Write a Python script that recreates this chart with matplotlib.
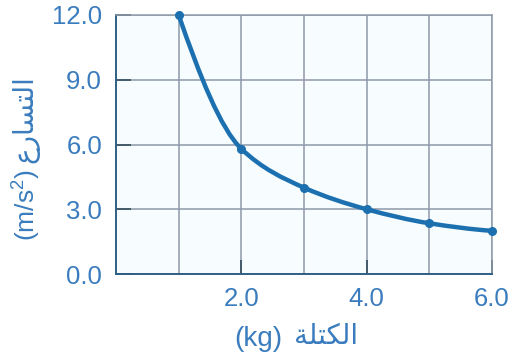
import matplotlib
matplotlib.use("Agg")
import matplotlib.pyplot as plt
from matplotlib.path import Path
from matplotlib.patches import PathPatch
import numpy as np

# Measured mass (kg) and acceleration (m/s^2)
mass = [1.0, 2.0, 3.0, 4.0, 5.0, 6.0]
accel = [12.0, 5.8, 4.0, 3.0, 2.35, 2.0]

y_ticks = [0.0, 3.0, 6.0, 9.0, 12.0]
y_tick_labels = ["0.0", "3.0", "6.0", "9.0", "12.0"]
x_ticks = [2.0, 4.0, 6.0]
x_tick_labels = ["2.0", "4.0", "6.0"]
x_grid = [1.0, 3.0, 5.0]

# Axis titles: unit part and Arabic word (shaped, visual left-to-right order)
x_unit = "(kg)"
x_word = "\uFE94\uFEE0\uFE98\uFEDC\uFEDF\uFE8D"
y_unit = r"(m/s$^{\mathregular{2}}$)"
y_word = "\uFEC9\uFEAD\uFE8E\uFEB4\uFE98\uFEDF\uFE8D"

plt.rcParams["mathtext.fontset"] = "custom"
plt.rcParams["mathtext.rm"] = "Liberation Sans"
plt.rcParams["mathtext.it"] = "Liberation Sans:italic"

TEXT_BLUE = "#3a7cbd"
CURVE_BLUE = "#1c70b0"
GRID = "#8e9aa8"
SPINE = "#2f5f85"
FONT = ["Liberation Sans", "DejaVu Sans"]

fig = plt.figure(figsize=(5.16, 3.64), dpi=100)
fig.patch.set_facecolor("white")
ax = fig.add_axes([116 / 516, 1 - 274 / 364, 376 / 516, 259 / 364])
ax.set_facecolor("#f7fcfe")
ax.set_xlim(0, 6)
ax.set_ylim(0, 12)

ax.set_yticks(y_ticks)
ax.set_yticklabels(y_tick_labels)
ax.set_xticks(x_ticks)
ax.set_xticklabels(x_tick_labels)
ax.set_xticks(x_grid, minor=True)

ax.grid(True, which="both", color=GRID, linewidth=1.1)
ax.set_axisbelow(True)
ax.tick_params(axis="y", which="major", direction="in", length=11, width=1.3,
               color="#3d5566", pad=10, labelsize=18.5, labelcolor=TEXT_BLUE)
ax.tick_params(axis="x", which="major", direction="in", length=10, width=1.3,
               color="#3d5566", pad=9, labelsize=18.5, labelcolor=TEXT_BLUE)
ax.tick_params(axis="x", which="minor", length=0)
for lab in ax.get_xticklabels() + ax.get_yticklabels():
    lab.set_family(FONT)

for side in ("left", "bottom"):
    ax.spines[side].set_color(SPINE)
    ax.spines[side].set_linewidth(1.4)
for side in ("top", "right"):
    ax.spines[side].set_color(GRID)
    ax.spines[side].set_linewidth(1.1)

# Smooth shape-preserving curve through the measured points
# (PCHIP-style Hermite tangents, written as cubic Bezier segments)
xs = np.asarray(mass)
ys = np.asarray(accel)
h = np.diff(xs)
s = np.diff(ys) / h
d = np.zeros_like(ys)
for k in range(1, len(xs) - 1):
    if s[k - 1] * s[k] > 0:
        d[k] = 2.0 / (1.0 / s[k - 1] + 1.0 / s[k])
d[0] = ((2 * h[0] + h[1]) * s[0] - h[0] * s[1]) / (h[0] + h[1])
d[-1] = ((2 * h[-1] + h[-2]) * s[-1] - h[-1] * s[-2]) / (h[-1] + h[-2])

verts = [(xs[0], ys[0])]
codes = [Path.MOVETO]
for k in range(len(xs) - 1):
    t = h[k] / 3.0
    verts += [(xs[k] + t, ys[k] + t * d[k]),
              (xs[k + 1] - t, ys[k + 1] - t * d[k + 1]),
              (xs[k + 1], ys[k + 1])]
    codes += [Path.CURVE4] * 3
curve = PathPatch(Path(verts, codes), facecolor="none", edgecolor=CURVE_BLUE,
                  linewidth=3.2, capstyle="round", zorder=3)
ax.add_patch(curve)
ax.plot(mass, accel, "o", color=CURVE_BLUE, markersize=5.5, zorder=4,
        clip_on=False)

# x-axis title
fig.text(258 / 516, 1 - 339 / 364, x_unit, ha="center", va="center",
         fontsize=20, color=TEXT_BLUE, family=FONT)
fig.text(326 / 516, 1 - 337 / 364, x_word, ha="center", va="center",
         fontsize=20, color=TEXT_BLUE, family=FONT)
# y-axis title
fig.text(27 / 516, 1 - 205 / 364, y_unit, ha="center", va="center",
         rotation=90, fontsize=19, color=TEXT_BLUE, family=FONT)
fig.text(25 / 516, 1 - 119 / 364, y_word, ha="center", va="center",
         rotation=90, fontsize=20, color=TEXT_BLUE, family=FONT)

fig.savefig("out.png", dpi=100, facecolor=fig.get_facecolor())
